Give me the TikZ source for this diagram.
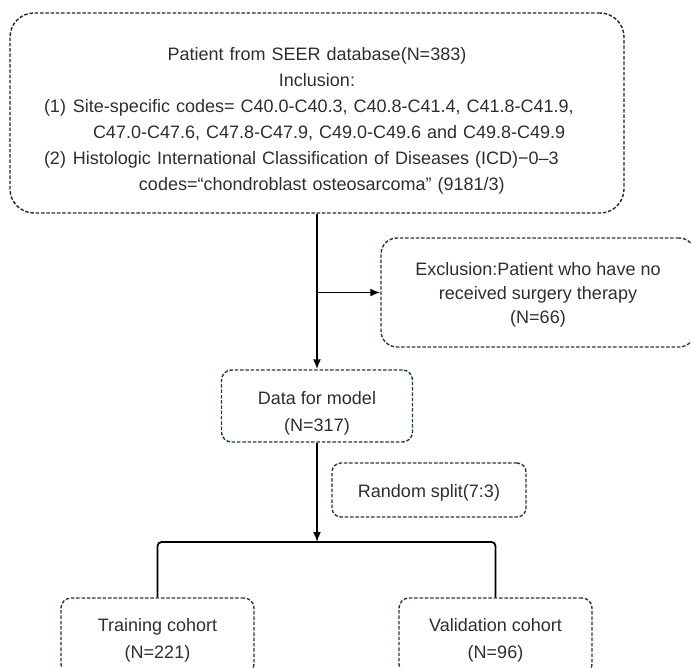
\documentclass[tikz,border=0pt]{standalone}
\usepackage{fontspec}
\setmainfont{Liberation Sans}
\usetikzlibrary{arrows.meta}

\definecolor{boxline}{HTML}{1F3A4D}
\definecolor{boxtext}{HTML}{2E2E2E}

\tikzset{
    flowbox/.style={draw=boxline, line width=1.4pt, dash pattern=on 3.5pt off 1.8pt,
        rounded corners=10pt, text=boxtext, align=center, inner sep=0pt,
        text depth=4pt, font=\fontsize{18}{26}\selectfont},
    flowarrow/.style={line width=1.8pt, -{Latex[length=10pt,width=8pt]}},
}

\begin{document}
\begin{tikzpicture}[x=1pt,y=-1pt]
    \useasboundingbox (0,0) rectangle (691,667);

    % boxes
    \node[flowbox, draw=black!85, rounded corners=24pt, minimum width=614pt,
        minimum height=200pt, text width=546pt, text height=29pt, text depth=134pt]
        (seer) at (317,113) {%
        Patient from SEER database(N=383)\\
        Inclusion:\\
        \makebox[546pt][l]{(1)\hspace{7pt}Site-specific codes= C40.0-C40.3, C40.8-C41.4, C41.8-C41.9,}\\
        \makebox[546pt][l]{\hspace{49pt}C47.0-C47.6, C47.8-C47.9, C49.0-C49.6 and C49.8-C49.9}\\
        \makebox[546pt][l]{(2)\hspace{7pt}Histologic International Classification of Diseases (ICD)−0–3}\\
        \makebox[546pt][l]{\hspace{95pt}codes=“chondroblast osteosarcoma”\hspace{6pt}(9181/3)}};
    \node[flowbox, rounded corners=16pt, minimum width=314pt, minimum height=109pt,
        text height=66pt, font=\fontsize{18}{24}\selectfont] (excl) at (538,292.5)
        {Exclusion:Patient who have no\\received surgery therapy\\(N=66)};
    \node[flowbox, minimum width=191pt, minimum height=72pt, text height=54pt,
        font=\fontsize{18}{27}\selectfont] (data) at (317,406) {Data for model\\(N=317)};
    \node[flowbox, rounded corners=9pt, minimum width=194pt, minimum height=54pt,
        text height=19pt] (rsplit) at (429,490) {Random split(7:3)};
    \node[flowbox, minimum width=193pt, minimum height=76pt, text height=49pt,
        font=\fontsize{18}{27}\selectfont] (train) at (157.5,636) {Training cohort\\(N=221)};
    \node[flowbox, minimum width=193pt, minimum height=76pt, text height=49pt,
        font=\fontsize{18}{27}\selectfont] (valid) at (495.5,636) {Validation cohort\\(N=96)};

    % connectors
    \coordinate (fork) at (317,542);
    \draw[flowarrow] (seer.south) -- (data.north);
    \draw[flowarrow] (seer.south |- excl.west) -- (excl.west);
    \draw[flowarrow] (data.south) -- (fork);
    \draw[line width=1.8pt, rounded corners=4pt] (train.north) |- (fork) -| (valid.north);
\end{tikzpicture}
\end{document}
